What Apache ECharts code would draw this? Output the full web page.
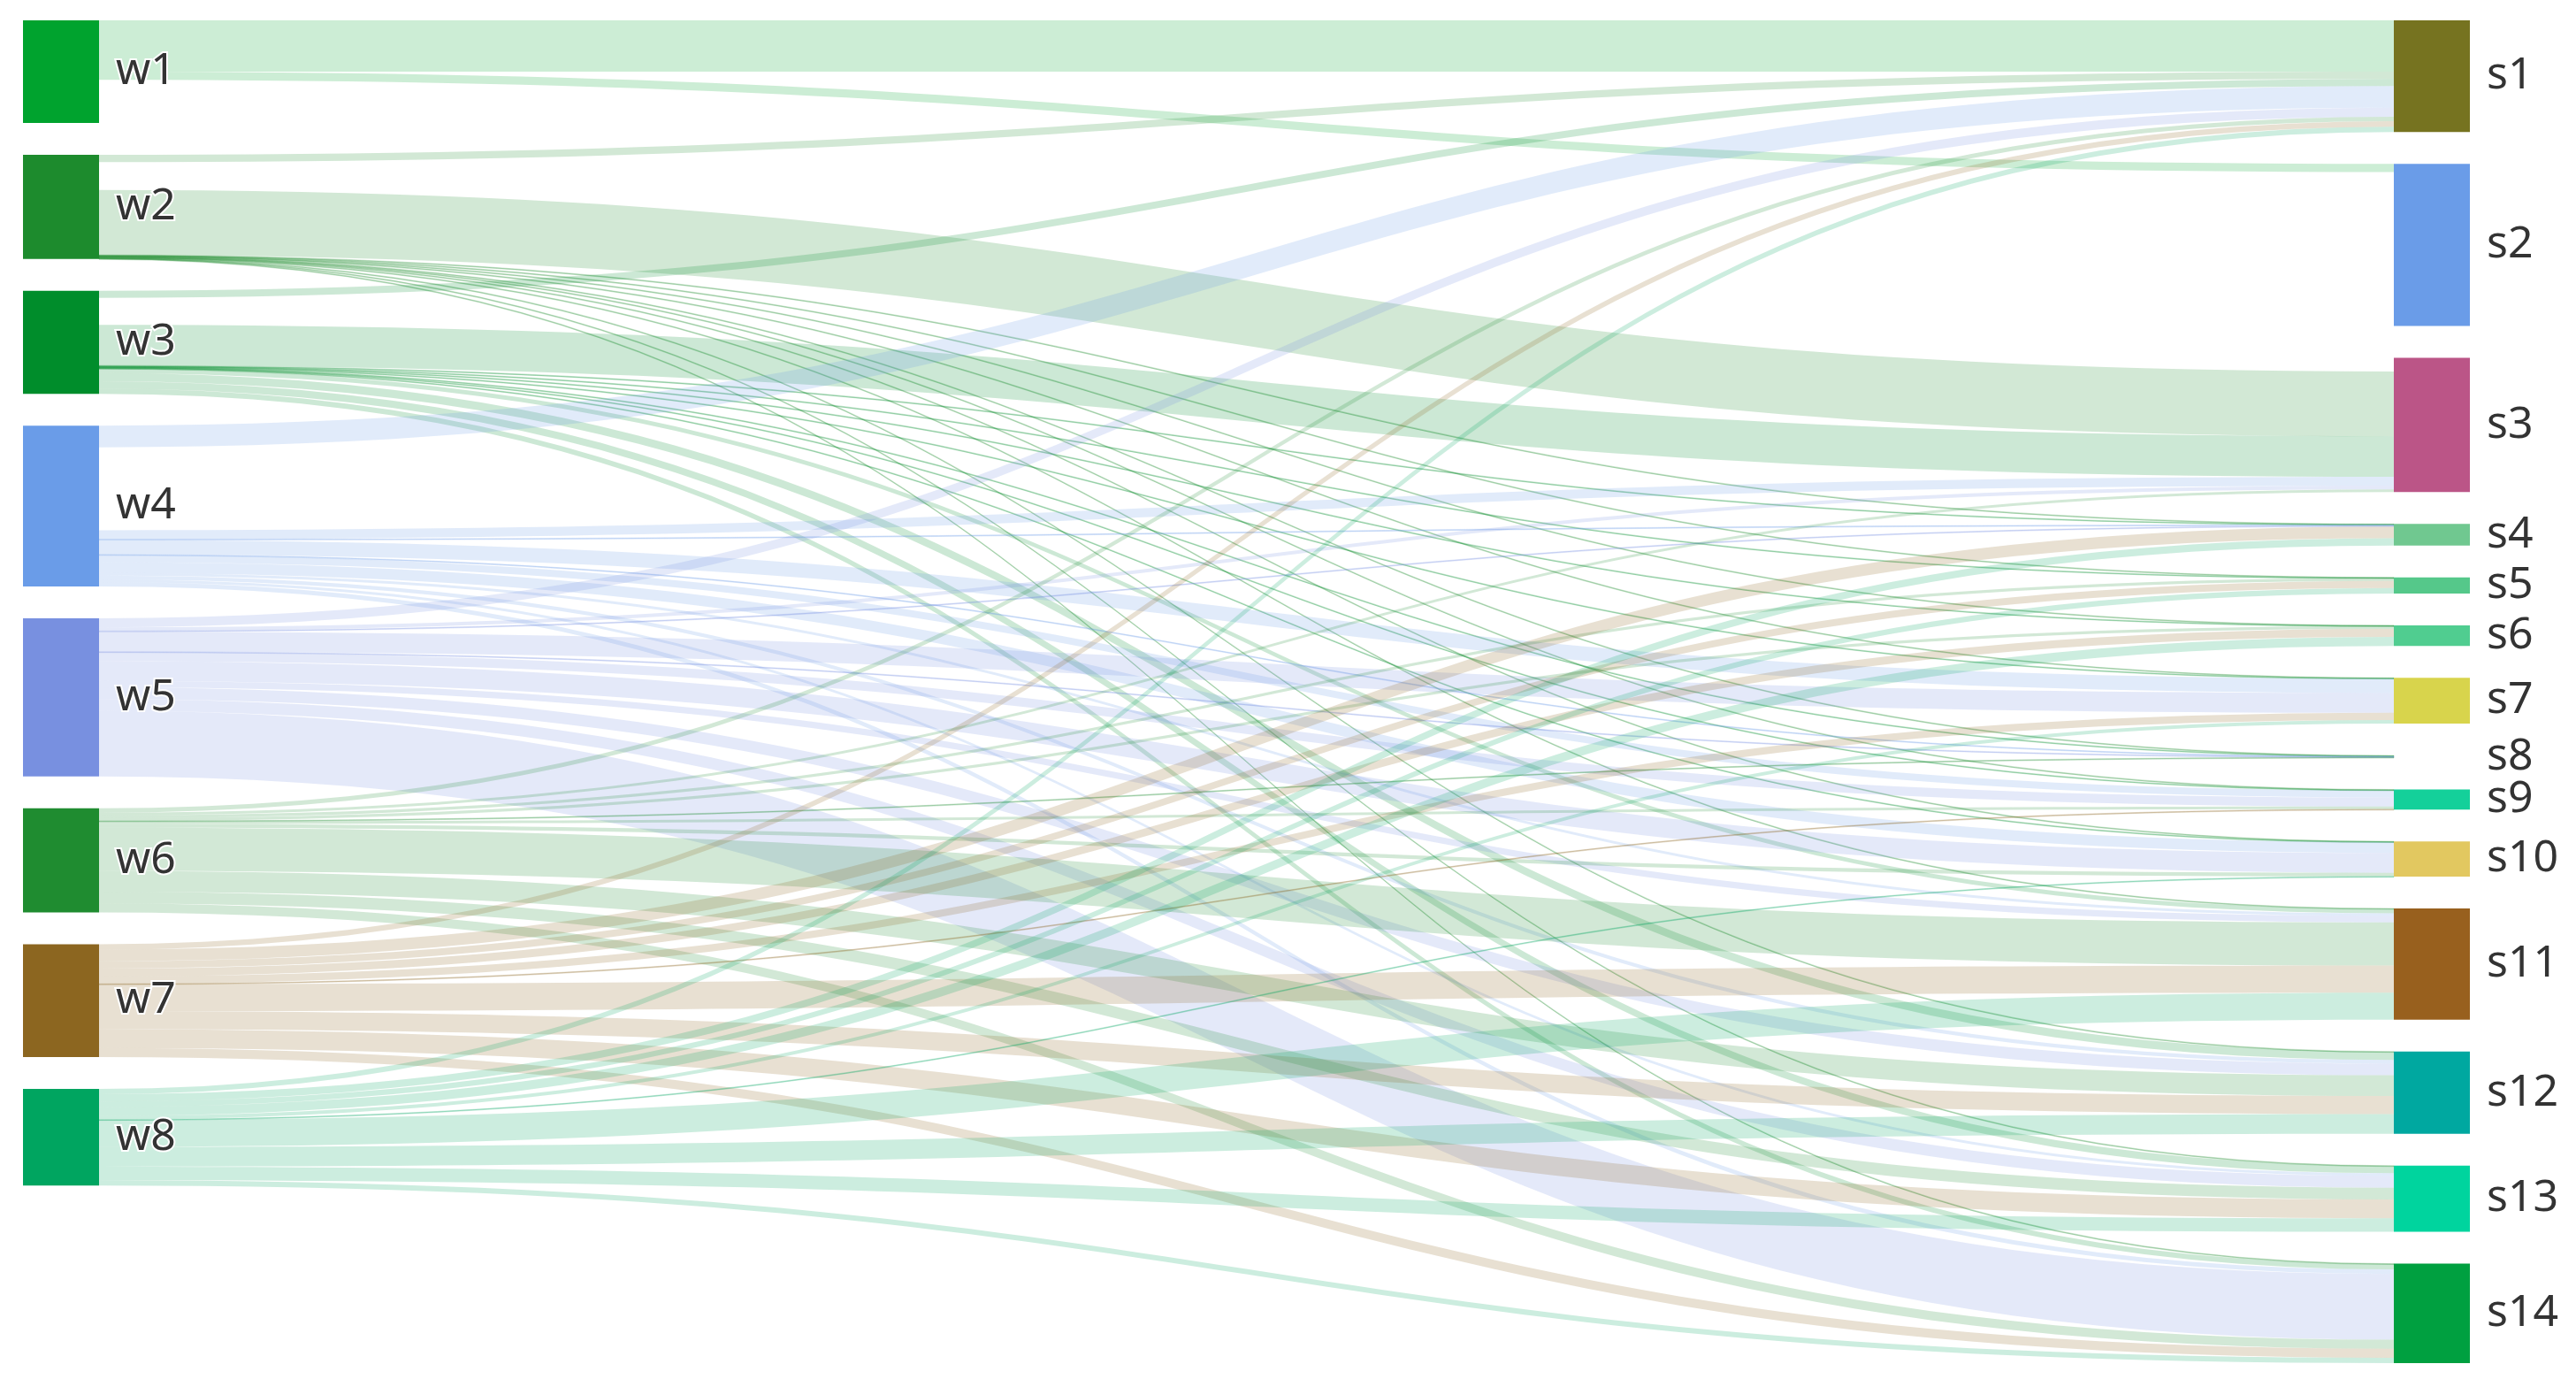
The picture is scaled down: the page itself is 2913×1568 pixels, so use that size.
<!DOCTYPE html>
<html>
<head>
<meta charset="utf-8">
<script src="https://cdn.jsdelivr.net/npm/echarts@6/dist/echarts.min.js"></script>
<style>
html,body{margin:0;padding:0;background:#ffffff;}
#chart{width:2913px;height:1568px;}
</style>
</head>
<body>
<div id="chart"></div>
<script>
// ---- data ----
const sources = ['w1','w2','w3','w4','w5','w6','w7','w8'];
const targets = ['s1','s2','s3','s4','s5','s6','s7','s8','s9','s10','s11','s12','s13','s14'];

// flow from each source to s1..s14 (0 = no link)
const w1 = [57, 9, 15, 0, 0, 0, 0, 0, 0, 0, 0, 0, 0, 0];
const w2 = [8, 31, 72, 0.4, 0.4, 0.4, 0.4, 0.4, 0.4, 0.4, 0.4, 0.4, 0.4, 0.4];
const w3 = [8, 30, 45, 0.5, 0.5, 0.5, 0.5, 0.5, 0.5, 0.5, 5, 9, 8, 6];
const w4 = [24, 92, 10, 1, 0, 0, 16, 0.5, 8, 12, 3, 4, 3, 5];
const w5 = [10, 0, 4, 1, 0, 0, 22, 0.5, 10, 22, 7, 13, 13, 73];
const w6 = [5, 0, 3, 0, 3, 3, 0, 0.5, 3, 4, 48, 23, 13, 10];
const w7 = [6, 0, 0, 13, 8, 9, 8, 0, 0.3, 0, 30, 20, 21, 10];
const w8 = [6, 0, 0, 8, 6, 10, 4, 0, 0, 0.3, 30, 22, 15, 6];
const flows = [w1, w2, w3, w4, w5, w6, w7, w8];

// links that take up room but are not drawn
const hiddenLinks = [['w1','s3'], ['w2','s2'], ['w3','s2'], ['w4','s2']];
// nodes whose own value exceeds their link sums
const fixedNodeValues = [['w1', 114], ['s2', 180]];

// ---- styles ----
const sourceColors = ['#00a32e','#1d8b2d','#008d2b','#6a9ce8','#7890e0','#1f8c30','#8c6620','#00a560'];
const targetColors = ['#767320','#6a9ce8','#bb5587','#70c890','#55c88a','#50cd90','#d8d44c','rgba(0,0,0,0)',
                      '#14d09a','#e2c860','#98601e','#00a8a0','#00d49e','#00a040'];

function fixedValue(name) {
  const f = fixedNodeValues.find(p => p[0] === name);
  return f ? f[1] : undefined;
}
function isHidden(s, t) {
  return hiddenLinks.some(p => p[0] === s && p[1] === t);
}

const nodes = [];
sources.forEach((n, i) => {
  const node = { name: n, itemStyle: { color: sourceColors[i] } };
  const v = fixedValue(n); if (v !== undefined) node.value = v;
  nodes.push(node);
});
targets.forEach((n, i) => {
  const node = { name: n, itemStyle: { color: targetColors[i] } };
  const v = fixedValue(n); if (v !== undefined) node.value = v;
  nodes.push(node);
});

const links = [];
flows.forEach((row, i) => {
  row.forEach((v, j) => {
    if (!v) return;
    const s = sources[i], t = targets[j];
    const link = { source: s, target: t, value: v };
    if (isHidden(s, t)) {
      link.lineStyle = { opacity: 0 };
    } else if (v < 1.5) {
      link.lineStyle = { opacity: 0.3, borderColor: sourceColors[i], borderWidth: 0.7 };
    }
    links.push(link);
  });
});

const chart = echarts.init(document.getElementById('chart'), null, { renderer: 'canvas' });
chart.setOption({
  backgroundColor: '#ffffff',
  animation: false,
  series: [{
    type: 'sankey',
    left: 26, right: 120, top: 23, bottom: 27,
    nodeWidth: 86,
    nodeGap: 36,
    layoutIterations: 0,
    nodeAlign: 'justify',
    draggable: false,
    emphasis: { disabled: true },
    itemStyle: { borderWidth: 0 },
    label: {
      show: true,
      position: 'right',
      distance: 19,
      fontSize: 50,
      fontFamily: 'Noto Sans',
      color: '#333333',
      textBorderColor: '#ffffff',
      textBorderWidth: 4
    },
    lineStyle: { color: 'source', opacity: 0.2, curveness: 0.5 },
    data: nodes,
    links: links
  }]
});
</script>
</body>
</html>
